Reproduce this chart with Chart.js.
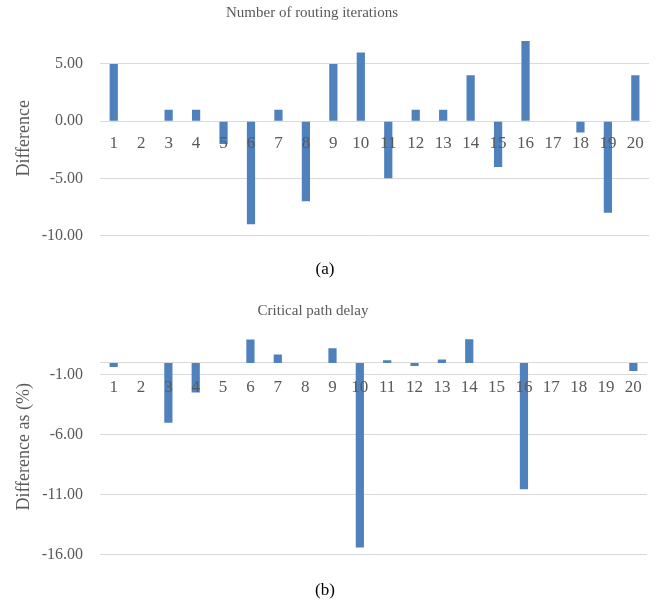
<!DOCTYPE html>
<html>
<head>
<meta charset="utf-8">
<script src="https://cdn.jsdelivr.net/npm/chart.js@4.4.1/dist/chart.umd.min.js"></script>
<style>
  html, body { margin: 0; padding: 0; background: #ffffff; }
  body { width: 656px; height: 605px; position: relative; overflow: hidden; }
  .box { position: absolute; left: 0; width: 656px; }
  #boxA { top: 0; height: 294px; }
  #boxB { top: 294px; height: 311px; }
</style>
</head>
<body>
<div class="box" id="boxA"><canvas id="chartA"></canvas></div>
<div class="box" id="boxB"><canvas id="chartB"></canvas></div>
<script>
const categories = ['1','2','3','4','5','6','7','8','9','10','11','12','13','14','15','16','17','18','19','20'];

const routingTitle = 'Number of routing iterations';
const routingValues = [5, 0, 1, 1, -2, -9, 1, -7, 5, 6, -5, 1, 1, 4, -4, 7, 0, -1, -8, 4];
const routingTicks = [-10, -5, 0, 5];
const routingMin = -10;
const routingMax = 7;

const delayTitle = 'Critical path delay';
const delayValues = [-0.33, 0, -5.0, -2.47, 0, 1.95, 0.7, 0, 1.22, -15.4, 0.22, -0.25, 0.28, 1.97, 0, -10.55, 0, 0, 0, -0.67];
const delayTicks = [-16, -11, -6, -1];
const delayMin = -16;
const delayMax = 2;

const FONT = "'Liberation Serif', 'Times New Roman', serif";
const TEXT = '#595959';
const GRID = '#d9d9d9';
const BAR = '#4f81bd';

// re-centre the chart title horizontally (the reference title sits slightly left of centre)
const titleShift = {
  id: 'titleShift',
  afterLayout(chart, args, opts) {
    const b = chart.titleBlock;
    if (!b || opts.center == null) return;
    const half = Math.min(opts.center - b.left, b.right - opts.center);
    b.left = opts.center - half;
    b.right = opts.center + half;
  }
};

function makeChart(id, title, sub, yTitle, values, ticks, min, max, pad) {
  return new Chart(document.getElementById(id), {
    type: 'bar',
    plugins: [titleShift],
    data: {
      labels: categories,
      datasets: [{
        data: values,
        backgroundColor: BAR,
        borderWidth: 0,
        categoryPercentage: 1,
        barPercentage: 0.3
      }]
    },
    options: {
      responsive: true,
      maintainAspectRatio: false,
      animation: false,
      layout: { padding: pad.layout },
      plugins: {
        legend: { display: false },
        tooltip: { enabled: false },
        titleShift: { center: pad.titleCenter },
        title: {
          display: true, text: title, color: TEXT,
          font: { family: FONT, size: 15, weight: 'normal' },
          padding: pad.title
        },
        subtitle: {
          display: true, text: sub, position: 'bottom', color: '#000000',
          font: { family: FONT, size: 17, weight: 'normal' },
          padding: pad.sub
        }
      },
      scales: {
        x: {
          position: { y: 0 },
          grid: { display: false, drawTicks: false },
          border: { display: true, color: GRID, width: 1 },
          ticks: {
            z: 1,
            color: TEXT, font: { family: FONT, size: 17 },
            padding: pad.xtick, maxRotation: 0, autoSkip: false
          }
        },
        y: {
          min: min, max: max,
          afterBuildTicks: (scale) => { scale.ticks = ticks.map(v => ({ value: v })); },
          afterFit: (scale) => { scale.width = pad.yWidth; },
          grid: { color: GRID, drawTicks: false, lineWidth: 1 },
          border: { display: false },
          ticks: {
            color: TEXT, font: { family: FONT, size: 16 }, padding: 17,
            callback: (v) => Number(v).toFixed(2)
          },
          title: {
            display: true, text: yTitle, color: TEXT,
            font: { family: FONT, size: 18, weight: 'normal' },
            padding: { top: 13, bottom: 0 }
          }
        }
      }
    }
  });
}

makeChart('chartA', routingTitle, '(a)', 'Difference', routingValues, routingTicks, routingMin, routingMax, {
  layout: { left: 0, right: 6, top: 0, bottom: 0 },
  title: { top: 4, bottom: 19 },
  sub: { top: 24, bottom: 14 },
  titleCenter: 312,
  xtick: 12,
  yWidth: 100
});

makeChart('chartB', delayTitle, '(b)', 'Difference as (%)', delayValues, delayTicks, delayMin, delayMax, {
  layout: { left: 0, right: 6, top: 0, bottom: 0 },
  title: { top: 8, bottom: 19 },
  sub: { top: 26, bottom: 4 },
  titleCenter: 313,
  xtick: 14,
  yWidth: 100
});
</script>
</body>
</html>
